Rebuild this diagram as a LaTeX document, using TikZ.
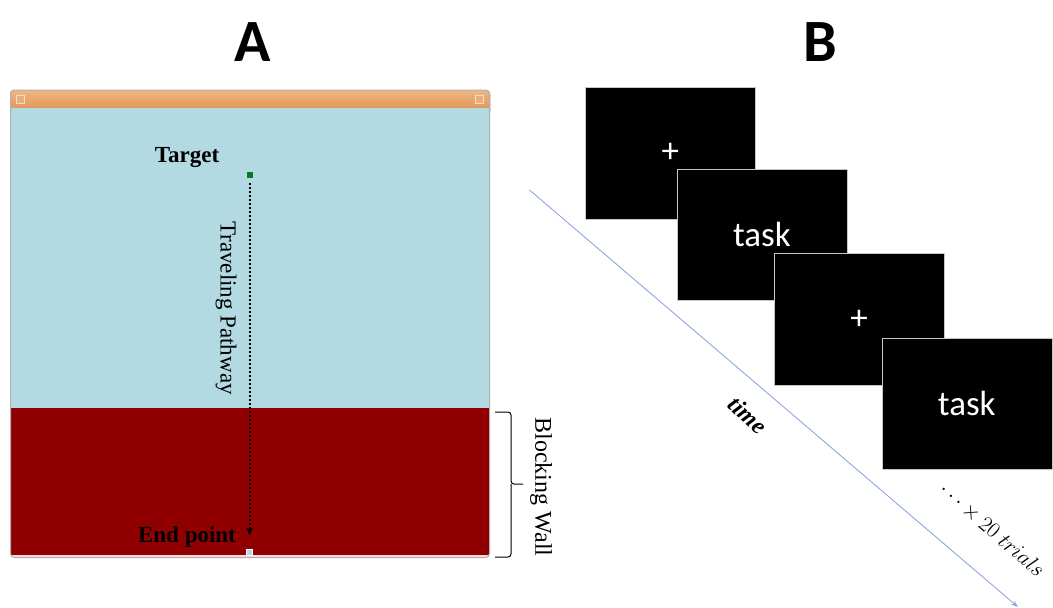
\RequirePackage{fix-cm}
\documentclass[tikz,border=0pt]{standalone}
\usepackage{fontspec}
\setmainfont{Liberation Serif}
\newfontfamily\calfont{Carlito}
\usetikzlibrary{arrows.meta}
\definecolor{sky}{HTML}{B3D9E3}
\definecolor{wallred}{HTML}{900000}
\definecolor{bartop}{HTML}{F0B783}
\definecolor{barbot}{HTML}{D98B4A}
\definecolor{timeline}{HTML}{8EA6DE}
\definecolor{framegray}{HTML}{B0B0B0}
\definecolor{marker}{HTML}{0A7A1A}
\tikzset{
  panel/.style={font=\calfont\bfseries\fontsize{60}{64}\selectfont},
  lbl/.style={font=\fontsize{23}{27}\selectfont, inner sep=0pt},
  sqmark/.style={rectangle, minimum size=6pt, inner sep=0pt},
  screen/.style={rectangle, fill=black, draw=gray!45, line width=0.6pt,
    minimum width=170pt, minimum height=131.5pt, inner sep=0pt,
    text=white, font=\calfont\fontsize{35}{40}\selectfont},
  btn/.style={rectangle, minimum size=8pt, inner sep=0pt, draw=white!70!barbot, fill=bartop!80!barbot, line width=0.6pt},
  bracestyle/.style={line width=1pt, rounded corners=3pt}
}
\begin{document}
\begin{tikzpicture}[x=1pt,y=-1pt]
\useasboundingbox (0,0) rectangle (1053,608);
% panel letters
\node[panel] (pA) at (253,42) {A};
\node[panel] (pB) at (820,42) {B};
% window
\fill[top color=bartop, bottom color=barbot, rounded corners=4pt] (10,90) rectangle (490,115);
\fill[sky] (11,107.5) rectangle (489,408);
\fill[wallred] (11,408) rectangle (489,555);
\fill[white!85!red] (11,555) rectangle (489,556.5);
\draw[framegray, line width=1pt, rounded corners=4pt] (10.5,90) rectangle (489.5,557.5);
\node[btn] (close) at (20,99) {};
\node[btn] (mini) at (479,99) {};
% markers and pathway
\node[sqmark, fill=marker] (target) at (249.5,175) {};
\node[sqmark, fill=sky, draw=white, line width=0.5pt] (endpt) at (249.5,552.5) {};
\draw[line width=2pt, dash pattern=on 2pt off 2pt, -{Stealth[length=8pt,width=7pt]}, shorten <=5pt, shorten >=14pt] (target.south) -- (endpt.north);
\node[lbl, font=\bfseries\fontsize{23}{27}\selectfont] (tgtlbl) at (187,158) {Target};
\node[lbl, font=\bfseries\fontsize{23}{27}\selectfont] (endlbl) at (187,537) {End point};
\node[lbl, rotate=-90] (pathlbl) at (226,308) {Traveling Pathway};
% brace
\coordinate (b0) at (495,412);
\coordinate (b1) at (495,557);
\coordinate (btip) at (523,484);
\draw[bracestyle] (b0) -- (511,412) -- (511,484) -- (btip);
\draw[bracestyle] (b1) -- (511,557) -- (511,484);
\node[lbl, font=\fontsize{24}{28}\selectfont, rotate=-90] (wall) at (541,487) {Blocking Wall};
% panel B
\coordinate (t0) at (529.5,190);
\coordinate (t1) at (1018,607);
\draw[timeline, line width=0.9pt, -{Stealth[length=7pt,width=5pt]}] (t0) -- (t1);
\node[screen] (s1) at (670.3,153.2) {+};
\node[screen] (s2) at (762,234.7) {task};
\node[screen] (s3) at (859.2,319.5) {+};
\node[screen] (s4) at (966.8,403.8) {task};
\node[lbl, font=\bfseries\itshape\fontsize{24}{28}\selectfont, rotate=-43] (timelbl) at (748,415) {time};
\node[lbl, font=\fontsize{22}{26}\selectfont, rotate=-41] (trials) at (992,530) {$\cdots\times 20\ trials$};
\end{tikzpicture}
\end{document}
